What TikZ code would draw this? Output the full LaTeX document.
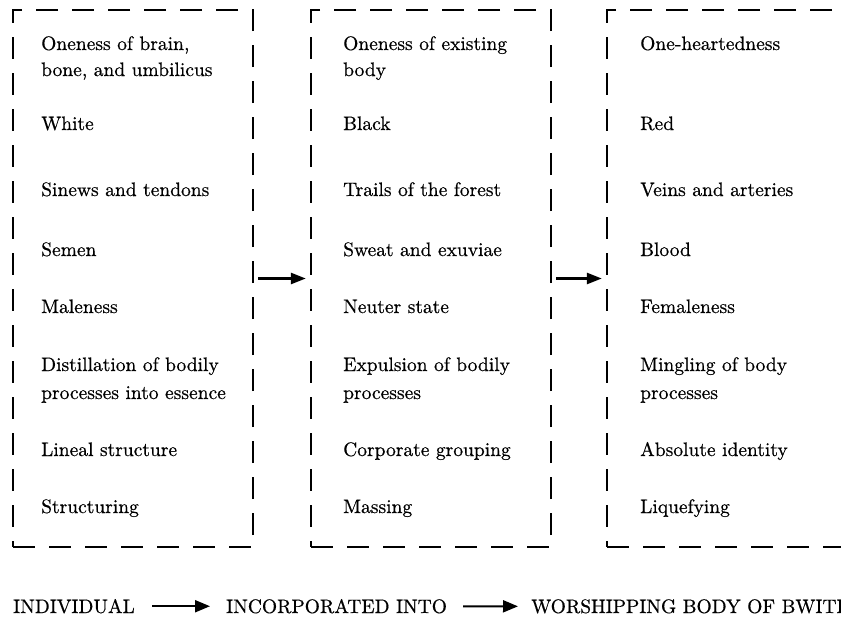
\documentclass[tikz,border=0pt]{standalone}
\usepackage{fontspec}
\newfontfamily\lmheavy{lmroman10-regular.otf}[FakeBold=0.5]
\usetikzlibrary{arrows.meta}
\begin{document}
\begin{tikzpicture}[x=1pt,y=-1pt,
  txt/.style={anchor=base west, inner sep=0pt, font=\lmheavy\fontsize{19.5}{23}\selectfont},
  dashbox/.style={draw, line width=2.4pt, dash pattern=on 22pt off 14pt, minimum width=240pt, minimum height=537pt, inner sep=0pt},
  linkarrow/.style={line width=2.6pt, -{Triangle[length=15pt,width=11pt]}, shorten <=4pt, shorten >=4pt},
  flowarrow/.style={line width=2pt, -{Triangle[length=15pt,width=12pt]}}]
\useasboundingbox (0,0) rectangle (841,619);
\clip (0,0) rectangle (841,619);
% boxes
\node[dashbox] (b1) at (133,278.5) {};
\node[dashbox] (b2) at (431,278.5) {};
\node[dashbox] (b3) at (727,278.5) {};
\draw[linkarrow] (b1.east) -- (b2.west);
\draw[linkarrow] (b2.east) -- (b3.west);
% column 1
\node[txt] (a1) at (41,50) {Oneness of brain,};
\node[txt] (a1b) at (41,76) {bone, and umbilicus};
\node[txt] (a2) at (41,130) {White};
\node[txt] (a3) at (41,196) {Sinews and tendons};
\node[txt] (a4) at (41,256) {Semen};
\node[txt] (a5) at (41,313) {Maleness};
\node[txt] (a6) at (41,371) {Distillation of bodily};
\node[txt] (a6b) at (41,399) {processes into essence};
\node[txt] (a7) at (41,456) {Lineal structure};
\node[txt] (a8) at (41,513) {Structuring};
% column 2
\node[txt] (c1) at (343,50) {Oneness of existing};
\node[txt] (c1b) at (343,76) {body};
\node[txt] (c2) at (343,130) {Black};
\node[txt] (c3) at (343,196) {Trails of the forest};
\node[txt] (c4) at (343,256) {Sweat and exuviae};
\node[txt] (c5) at (343,313) {Neuter state};
\node[txt] (c6) at (343,371) {Expulsion of bodily};
\node[txt] (c6b) at (343,399) {processes};
\node[txt] (c7) at (343,456) {Corporate grouping};
\node[txt] (c8) at (343,513) {Massing};
% column 3
\node[txt] (d1) at (640,50) {One-heartedness};
\node[txt] (d2) at (640,130) {Red};
\node[txt] (d3) at (640,196) {Veins and arteries};
\node[txt] (d4) at (640,256) {Blood};
\node[txt] (d5) at (640,313) {Femaleness};
\node[txt] (d6) at (640,371) {Mingling of body};
\node[txt] (d6b) at (640,399) {processes};
\node[txt] (d7) at (640,456) {Absolute identity};
\node[txt] (d8) at (640,513) {Liquefying};
% bottom line
\node[txt] (ind) at (13,613) {INDIVIDUAL};
\node[txt] (inc) at (226,613) {INCORPORATED INTO};
\node[txt] (wor) at (531,613) {WORSHIPPING BODY OF BWITI};
\draw[flowarrow, shorten <=17pt, shorten >=16pt] (ind.east) -- (inc.west);
\draw[flowarrow, shorten <=16pt, shorten >=13pt] (inc.east) -- (wor.west);
\end{tikzpicture}
\end{document}
